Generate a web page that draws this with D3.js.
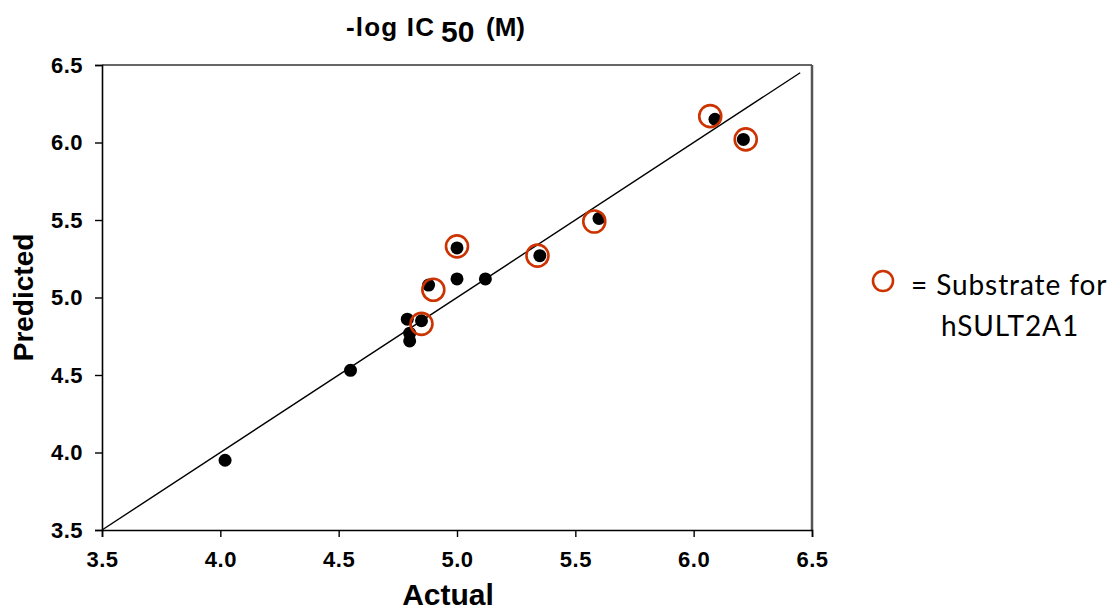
<!DOCTYPE html>
<html>
<head>
<meta charset="utf-8">
<script src="https://cdn.jsdelivr.net/npm/d3@7"></script>
<style>
  body { margin: 0; background: #fff; }
  svg { display: block; }
</style>
</head>
<body>
<div id="chart"></div>
<script>
// actual vs predicted -log IC50 values
const actual = [4.02, 4.55, 4.80, 4.80, 4.79, 4.85, 4.88, 5.00, 5.00, 5.12, 5.35, 5.60, 6.09, 6.21];
const predicted = [3.95, 4.53, 4.72, 4.77, 4.86, 4.85, 5.08, 5.32, 5.12, 5.12, 5.27, 5.51, 6.15, 6.02];
// substrate markers (orange rings)
const subActual = [4.85, 4.90, 5.00, 5.34, 5.58, 6.07, 6.22];
const subPredicted = [4.83, 5.05, 5.33, 5.27, 5.49, 6.17, 6.02];
const ticks = [3.5, 4.0, 4.5, 5.0, 5.5, 6.0, 6.5];
const lineEnds = [3.5, 6.45];

const W = 1118, H = 611;
const margin = { top: 65, right: 306, bottom: 81, left: 102 };
const width = W - margin.left - margin.right;
const height = H - margin.top - margin.bottom;
const sans = "'Liberation Sans', Arial, sans-serif";

const svg = d3.select("#chart").append("svg")
  .attr("width", W).attr("height", H);

const g = svg.append("g")
  .attr("transform", `translate(${margin.left},${margin.top})`);

const x = d3.scaleLinear().domain([3.5, 6.5]).range([0, width]);
const y = d3.scaleLinear().domain([3.5, 6.5]).range([height, 0]);

// frame
g.append("line").attr("x1", 0).attr("x2", width).attr("y1", 0).attr("y2", 0)
  .attr("stroke", "#333").attr("stroke-width", 1.6);
g.append("line").attr("x1", width).attr("x2", width).attr("y1", 0).attr("y2", height)
  .attr("stroke", "#555").attr("stroke-width", 2.5);

const xAxis = g.append("g")
  .attr("transform", `translate(0,${height})`)
  .call(d3.axisBottom(x).tickValues(ticks).tickFormat(d3.format(".1f")).tickSize(7).tickPadding(14));
const yAxis = g.append("g")
  .call(d3.axisLeft(y).tickValues(ticks).tickFormat(d3.format(".1f")).tickSize(7).tickPadding(12));

[xAxis, yAxis].forEach(a => {
  a.select(".domain").attr("stroke", "#000").attr("stroke-width", 1.6);
  a.selectAll(".tick line").attr("stroke", "#000").attr("stroke-width", 1.4);
  a.selectAll("text")
    .style("font-family", sans)
    .style("font-weight", "bold").style("font-size", "22px")
    .style("letter-spacing", "0.5px")
    .attr("fill", "#000");
});

// identity line
g.append("line")
  .attr("x1", x(lineEnds[0])).attr("y1", y(lineEnds[0]))
  .attr("x2", x(lineEnds[1])).attr("y2", y(lineEnds[1]))
  .attr("stroke", "#000").attr("stroke-width", 1.4);

// dots
g.selectAll(".dot").data(actual).enter().append("circle")
  .attr("class", "dot")
  .attr("cx", d => x(d))
  .attr("cy", (d, i) => y(predicted[i]))
  .attr("r", 6.5)
  .attr("fill", "#000");

// substrate rings
g.selectAll(".ring").data(subActual).enter().append("circle")
  .attr("class", "ring")
  .attr("cx", d => x(d))
  .attr("cy", (d, i) => y(subPredicted[i]))
  .attr("r", 11)
  .attr("fill", "none")
  .attr("stroke", "#cc3300")
  .attr("stroke-width", 2.6);

// titles
const title = svg.append("text")
  .attr("y", 36)
  .style("font-family", sans)
  .style("font-weight", "bold").style("font-size", "26px")
  .style("letter-spacing", "1.2px");
title.append("tspan").attr("x", 346).text("-log IC");
title.append("tspan").attr("x", 441).attr("dy", 6).style("font-size", "30px").style("letter-spacing", "0px").text("50");
title.append("tspan").attr("x", 486).attr("dy", -6).style("letter-spacing", "0px").text("(M)");

svg.append("text")
  .attr("x", 448).attr("y", 605)
  .attr("text-anchor", "middle")
  .style("font-family", sans)
  .style("font-weight", "bold").style("font-size", "30px")
  .text("Actual");

svg.append("text")
  .attr("transform", `translate(33,${margin.top + height / 2})rotate(-90)`)
  .attr("text-anchor", "middle")
  .style("font-family", sans)
  .style("font-weight", "bold").style("font-size", "28px")
  .text("Predicted");

// legend
svg.append("circle")
  .attr("cx", 883).attr("cy", 281).attr("r", 10)
  .attr("fill", "none").attr("stroke", "#cc3300").attr("stroke-width", 2.6);
svg.append("text")
  .attr("x", 911).attr("y", 295)
  .style("font-family", "Lato, 'Open Sans', sans-serif")
  .style("font-size", "28px").style("letter-spacing", "0.9px").attr("fill", "#000")
  .text("= Substrate for");
svg.append("text")
  .attr("x", 941).attr("y", 336)
  .style("font-family", "Lato, 'Open Sans', sans-serif")
  .style("font-size", "28px").style("letter-spacing", "0.9px").attr("fill", "#000")
  .text("hSULT2A1");
</script>
</body>
</html>
